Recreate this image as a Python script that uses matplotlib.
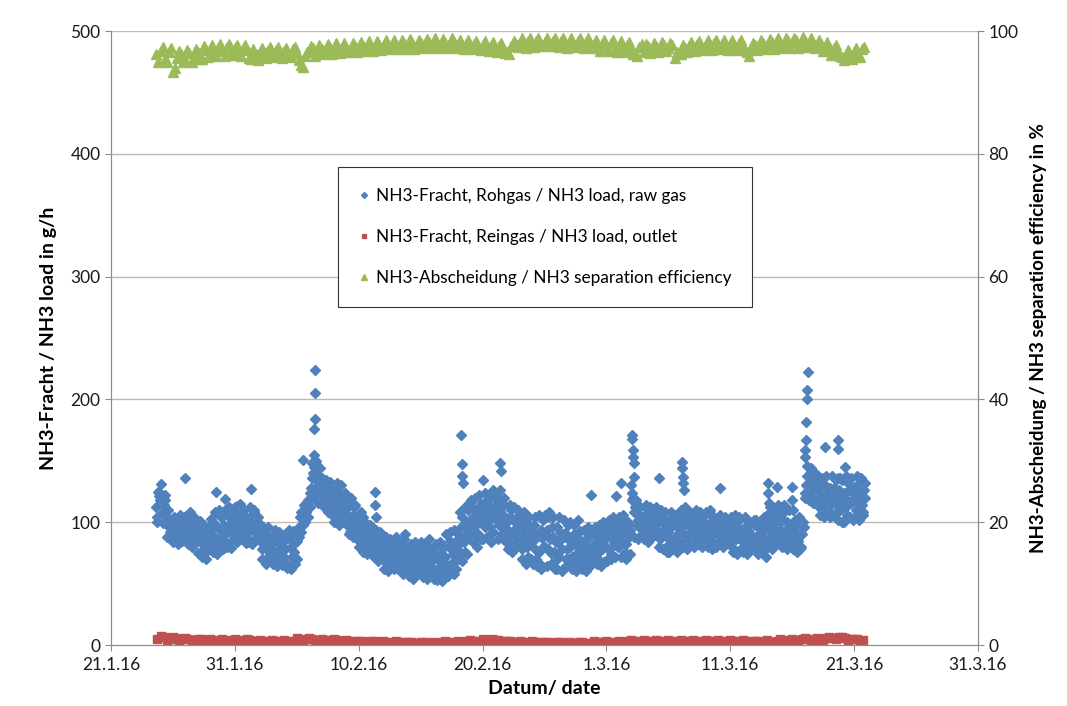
import matplotlib
matplotlib.use("Agg")
import matplotlib.pyplot as plt
import matplotlib.dates as mdates
import numpy as np
import pandas as pd

# NH3 load raw gas (g/h), 4-hourly readings from 16:00, one row per day
blue_rows = [
    [112, 125],
    [131, 108, 118, 104, 96, 101],
    [92, 99, 87, 95, 90, 101],
    [136, 94, 88, 97, 86, 92],
    [96, 84, 90, 78, 70, 88],
    [92, 80, 98, 125, 77, 94],
    [88, 119, 83, 104, 90, 95],
    [96, 113, 103, 88, 107, 92],
    [98, 86, 127, 94, 101, 89],
    [92, 78, 85, 70, 88, 75],
    [82, 68, 90, 74, 79, 65],
    [72, 86, 64, 80, 93, 70],
    [85, 96, 108, 151, 100, 112],
    [118, 128, 140, 135, 126, 132],
    [124, 116, 131, 119, 127, 114],
    [110, 128, 104, 121, 108, 117],
    [99, 112, 92, 106, 95, 103],
    [96, 85, 104, 80, 92, 77],
    [82, 90, 74, 88, 70, 79],
    [75, 84, 66, 78, 70, 62],
    [80, 68, 73, 64, 86, 71],
    [66, 76, 60, 72, 58, 79],
    [64, 70, 82, 57, 68, 74],
    [62, 75, 53, 69, 80, 65],
    [72, 60, 85, 67, 58, 78],
    [90, 76, 104, 84, 95, 110],
    [86, 112, 96, 104, 90, 115],
    [108, 96, 118, 102, 112, 92],
    [104, 120, 98, 114, 106, 88],
    [100, 88, 110, 82, 95, 105],
    [92, 78, 101, 86, 72, 96],
    [84, 98, 70, 90, 66, 87],
    [80, 94, 104, 75, 88, 68],
    [96, 72, 86, 62, 91, 78],
    [70, 88, 64, 82, 76, 93],
    [74, 68, 86, 79, 66, 90],
    [72, 84, 70, 92, 78, 88],
    [80, 95, 74, 100, 86, 92],
    [98, 84, 102, 76, 92, 88],
    [130, 120, 112, 98, 106, 94],
    [104, 92, 110, 96, 88, 100],
    [98, 110, 86, 102, 94, 80],
    [92, 78, 104, 88, 96, 84],
    [102, 90, 108, 86, 97, 82],
    [94, 104, 88, 100, 84, 96],
    [86, 98, 106, 90, 82, 100],
    [96, 88, 102, 92, 84, 98],
    [90, 80, 98, 86, 104, 78],
    [84, 96, 76, 92, 88, 80],
    [98, 82, 90, 77, 94, 86],
    [96, 88, 104, 84, 110, 92],
    [100, 86, 108, 94, 82, 98],
    [90, 80, 98, 85, 78, 95],
    [124, 138, 128, 142, 120, 132],
    [126, 112, 134, 118, 130, 108],
    [120, 106, 128, 114, 136, 110],
    [100, 124, 112, 132, 104, 118],
    [128, 110, 122, 136, 114, 126],
]

# same series, readings in between (4-hourly from 18:00)
blue_rows_b = [
    [104, 118],
    [122, 114, 99, 110, 92, 97],
    [104, 88, 96, 84, 98, 93],
    [90, 100, 84, 93, 102, 88],
    [87, 93, 82, 95, 84, 80],
    [86, 100, 88, 84, 95, 104],
    [98, 92, 106, 96, 100, 86],
    [105, 92, 98, 110, 94, 100],
    [92, 104, 96, 110, 90, 99],
    [84, 96, 80, 90, 78, 86],
    [76, 86, 72, 84, 70, 80],
    [78, 66, 88, 72, 76, 84],
    [92, 104, 98, 114, 108, 118],
    [124, 136, 145, 128, 138, 122],
    [130, 122, 118, 126, 110, 121],
    [118, 112, 124, 114, 104, 112],
    [106, 96, 100, 112, 98, 92],
    [88, 98, 92, 86, 84, 90],
    [86, 78, 84, 80, 76, 84],
    [70, 80, 72, 68, 82, 74],
    [74, 78, 66, 80, 70, 76],
    [70, 64, 80, 68, 74, 62],
    [72, 60, 76, 66, 62, 78],
    [70, 58, 72, 64, 74, 60],
    [66, 80, 62, 74, 84, 70],
    [82, 96, 88, 76, 100, 92],
    [98, 104, 88, 110, 100, 106],
    [100, 112, 106, 96, 110, 120],
    [112, 100, 108, 96, 114, 102],
    [94, 104, 90, 100, 88, 98],
    [84, 96, 90, 80, 98, 88],
    [92, 78, 88, 76, 94, 80],
    [90, 78, 86, 96, 76, 84],
    [84, 92, 78, 88, 70, 86],
    [80, 72, 90, 70, 86, 78],
    [82, 76, 72, 88, 80, 74],
    [80, 90, 76, 86, 82, 94],
    [88, 78, 92, 84, 96, 80],
    [90, 96, 86, 82, 98, 94],
    [124, 108, 118, 102, 98, 104],
    [96, 104, 90, 100, 106, 94],
    [102, 92, 106, 90, 98, 100],
    [86, 96, 82, 100, 90, 94],
    [96, 104, 88, 100, 92, 104],
    [100, 86, 96, 92, 102, 90],
    [94, 90, 100, 84, 96, 92],
    [90, 100, 86, 96, 92, 88],
    [98, 86, 92, 96, 88, 94],
    [90, 82, 94, 84, 100, 86],
    [88, 96, 84, 92, 80, 96],
    [102, 92, 96, 100, 88, 104],
    [94, 102, 90, 100, 96, 88],
    [84, 92, 88, 100, 90, 96],
    [130, 124, 136, 126, 140, 128],
    [118, 130, 122, 112, 126, 120],
    [128, 116, 122, 108, 126, 118],
    [112, 120, 106, 126, 116, 124],
    [118, 130, 116, 124, 108, 120],
]

# same series, odd-hour readings (4-hourly from 17:00)
blue_rows_c = [
    [100, 121],
    [119, 99, 122, 88, 103, 86],
    [84, 103, 82, 106, 85, 104],
    [105, 82, 108, 80, 104, 84],
    [75, 101, 72, 98, 76, 96],
    [103, 76, 108, 74, 110, 80],
    [78, 110, 80, 112, 79, 108],
    [112, 84, 115, 86, 110, 83],
    [84, 112, 82, 108, 86, 104],
    [98, 70, 94, 66, 96, 68],
    [66, 94, 64, 92, 67, 88],
    [90, 63, 94, 62, 84, 66],
    [70, 88, 92, 98, 116, 104],
    [112, 148, 120, 150, 116, 144],
    [136, 112, 134, 108, 133, 106],
    [100, 132, 98, 130, 100, 124],
    [116, 90, 120, 88, 114, 86],
    [80, 108, 76, 100, 74, 98],
    [96, 72, 94, 68, 92, 70],
    [62, 88, 60, 86, 64, 84],
    [88, 62, 84, 58, 90, 60],
    [56, 82, 54, 84, 58, 80],
    [84, 55, 80, 54, 86, 58],
    [54, 82, 56, 84, 52, 80],
    [90, 56, 92, 60, 94, 62],
    [70, 108, 68, 112, 74, 116],
    [118, 84, 120, 80, 122, 86],
    [86, 124, 88, 122, 84, 126],
    [124, 86, 126, 90, 120, 84],
    [78, 114, 76, 112, 80, 110],
    [106, 70, 108, 66, 104, 70],
    [66, 104, 64, 106, 62, 102],
    [106, 64, 108, 66, 104, 62],
    [62, 104, 60, 102, 64, 98],
    [100, 62, 98, 60, 102, 64],
    [62, 94, 60, 96, 64, 92],
    [96, 66, 98, 64, 100, 68],
    [68, 102, 70, 104, 72, 100],
    [104, 72, 106, 70, 100, 74],
    [118, 88, 116, 86, 112, 90],
    [86, 114, 84, 112, 88, 108],
    [112, 80, 110, 78, 108, 76],
    [76, 108, 78, 106, 76, 104],
    [110, 80, 112, 78, 108, 82],
    [80, 110, 82, 108, 80, 106],
    [108, 80, 110, 78, 104, 80],
    [82, 106, 80, 104, 84, 102],
    [104, 76, 106, 74, 102, 78],
    [76, 104, 74, 100, 78, 102],
    [102, 74, 100, 76, 104, 72],
    [80, 112, 78, 110, 82, 114],
    [112, 80, 114, 78, 110, 82],
    [78, 102, 76, 104, 80, 100],
    [120, 146, 118, 144, 116, 140],
    [138, 106, 136, 104, 138, 110],
    [104, 138, 106, 134, 102, 136],
    [134, 100, 138, 104, 136, 102],
    [104, 138, 102, 136, 106, 132],
]

# short peaks (hourly readings) in the raw gas load
peak_times = [
    "2016-02-06 09:00", "2016-02-06 09:30", "2016-02-06 10:00", "2016-02-06 10:30",
    "2016-02-06 11:00", "2016-02-06 11:30",
    "2016-02-11 07:00", "2016-02-11 08:00", "2016-02-11 09:00",
    "2016-02-18 07:00", "2016-02-18 08:00", "2016-02-18 09:00", "2016-02-18 10:00",
    "2016-02-20 00:00", "2016-02-21 10:00", "2016-02-21 11:00",
    "2016-02-28 19:00", "2016-03-01 19:00", "2016-03-02 05:00",
    "2016-03-03 01:00", "2016-03-03 02:00", "2016-03-03 03:00", "2016-03-03 04:00",
    "2016-03-03 05:00", "2016-03-03 06:00",
    "2016-03-05 05:00",
    "2016-03-07 02:00", "2016-03-07 03:00", "2016-03-07 04:00", "2016-03-07 05:00",
    "2016-03-07 06:00",
    "2016-03-10 04:00",
    "2016-03-14 01:00", "2016-03-14 02:00", "2016-03-14 03:00", "2016-03-14 04:00",
    "2016-03-14 18:00",
    "2016-03-15 23:00", "2016-03-16 00:00", "2016-03-16 01:00",
    "2016-03-17 00:00", "2016-03-17 01:00", "2016-03-17 02:00", "2016-03-17 03:00",
    "2016-03-17 04:00", "2016-03-17 05:00", "2016-03-17 06:00",
    "2016-03-18 15:00", "2016-03-19 16:00", "2016-03-19 17:00", "2016-03-20 06:00",
]
peak_values = [
    150, 155, 176, 184, 205, 224,
    125, 114, 104,
    171, 147, 138, 132,
    134, 148, 142,
    122, 121, 132,
    171, 168, 159, 153, 148, 137,
    136,
    149, 144, 137, 132, 126,
    128,
    132, 124, 116, 108,
    129,
    129, 118, 110,
    153, 159, 167, 182, 200, 208, 222,
    161, 167, 160, 145,
]

# NH3 load outlet (g/h), 12-hourly readings from 24.1. 18:00
red_rows = [
    [5.2], [6.4, 4.8], [5.5, 4.6], [5.0, 4.2], [4.6, 3.9], [4.1, 3.4], [3.8, 3.2],
    [3.6, 4.2], [3.9, 3.3], [3.5, 3.0], [3.2, 3.6], [3.0, 3.4], [4.3, 4.8],
    [4.6, 4.2], [4.4, 3.9], [4.0, 3.6], [3.5, 3.1], [3.2, 2.8], [2.9, 2.6],
    [2.5, 2.8], [2.4, 2.2], [2.3, 2.0], [2.1, 1.9], [2.0, 2.3], [2.2, 2.5],
    [2.6, 2.9], [3.2, 3.6], [4.0, 4.6], [3.8, 3.3], [3.0, 2.7], [2.6, 2.4],
    [2.3, 2.5], [2.2, 2.0], [2.1, 1.8], [1.9, 2.2], [2.0, 1.7], [2.1, 2.4],
    [2.6, 2.2], [2.8, 3.1], [3.4, 3.0], [3.2, 3.6], [3.4, 3.1], [3.5, 3.2],
    [3.0, 3.4], [3.3, 2.9], [3.1, 3.5], [3.2, 2.8], [2.9, 3.3], [2.7, 3.1],
    [3.0, 2.6], [2.8, 3.2], [3.5, 3.9], [4.2, 4.6], [4.8, 4.4], [5.0, 5.4],
    [5.8, 6.3], [5.4, 4.8], [4.5, 4.1],
]

# outlet readings in between, 12-hourly from 25.1. 00:00
red_rows_b = [
    [7.0, 4.0], [6.2, 3.8], [5.8, 3.6], [5.2, 3.2], [4.8, 2.8], [4.5, 2.6], [4.8, 2.8],
    [4.6, 2.7], [4.2, 2.4], [4.0, 2.4], [4.0, 2.5], [5.4, 3.6], [5.5, 3.5], [5.0, 3.2],
    [4.6, 2.8], [4.0, 2.4], [3.6, 2.0], [3.3, 1.8], [3.2, 1.6], [3.0, 1.4], [2.8, 1.3],
    [2.6, 1.2], [2.8, 1.3], [3.0, 1.6], [3.4, 2.0], [4.2, 2.6], [5.2, 3.4], [4.4, 2.6],
    [3.6, 2.0], [3.2, 1.7], [3.0, 1.6], [2.8, 1.4], [2.6, 1.2], [2.7, 1.3], [2.5, 1.2],
    [2.9, 1.5], [3.2, 1.7], [3.6, 2.1], [4.0, 2.4], [4.2, 2.5], [4.0, 2.4], [4.1, 2.5],
    [4.0, 2.3], [3.9, 2.2], [4.1, 2.4], [3.8, 2.1], [3.9, 2.2], [3.7, 2.0], [3.6, 1.9],
    [3.8, 2.1], [4.5, 2.8], [5.2, 3.4], [5.5, 3.8], [6.0, 4.2], [6.8, 4.8], [6.2, 4.0],
    [5.2, 3.4],
]

# NH3 separation efficiency (%), 8-hourly readings from 24.1. 16:00
green_rows = [
    [96.2], [96.8, 95.4, 96.5], [93.4, 95.6, 96.3], [95.3, 96.4, 95.8],
    [96.6, 95.5, 96.9], [97.0, 96.3, 97.3], [96.8, 97.4, 96.5], [97.2, 96.6, 97.1],
    [96.9, 95.4, 96.2], [96.6, 95.9, 96.9], [96.3, 96.9, 96.0], [96.8, 96.2, 97.0],
    [96.4, 94.5, 95.9], [96.7, 97.2, 96.5], [97.0, 96.6, 97.3], [96.9, 97.4, 96.8],
    [97.3, 96.9, 97.5], [97.1, 97.6, 97.0], [97.5, 97.1, 97.7], [97.3, 97.8, 97.2],
    [97.7, 97.4, 98.0], [97.6, 98.1, 97.5], [98.0, 97.6, 98.2], [97.8, 98.1, 97.6],
    [98.0, 97.7, 98.2], [97.8, 97.4, 97.9], [97.5, 97.9, 97.3], [97.8, 97.2, 97.6],
    [97.0, 97.5, 96.7], [96.6, 97.6, 97.9], [98.1, 97.6, 98.3], [97.9, 98.4, 97.8],
    [98.2, 97.7, 98.4], [97.9, 98.3, 97.6], [98.1, 97.7, 98.4], [97.9, 98.2, 97.6],
    [97.8, 97.2, 97.9], [97.5, 98.0, 97.1], [97.6, 97.0, 97.8], [97.2, 96.4, 97.4],
    [96.6, 97.5, 97.0], [97.6, 97.1, 97.8], [97.3, 97.7, 96.5], [96.2, 97.2, 97.6],
    [97.4, 97.9, 97.3], [97.8, 97.3, 98.0], [97.5, 97.9, 97.2], [97.8, 97.4, 98.0],
    [97.6, 96.6, 97.3], [97.8, 97.4, 98.1], [97.7, 98.2, 97.6], [98.1, 97.7, 98.4],
    [98.0, 98.5, 97.8], [98.3, 97.9, 98.1], [97.6, 97.9, 97.2], [96.9, 97.3, 96.6],
    [95.8, 96.3, 95.9], [96.6, 96.2, 97.0],
]

# efficiency readings in between, 8-hourly from 24.1. 20:00
green_rows_b = [
    [95.0], [97.4, 95.0, 97.2], [94.0, 96.8, 95.0], [96.9, 95.0, 97.0],
    [95.4, 97.6, 95.8], [97.8, 95.9, 97.9], [96.0, 97.9, 96.1], [97.8, 96.0, 97.7],
    [95.6, 97.0, 95.2], [97.3, 95.6, 97.4], [95.8, 97.4, 95.6], [97.3, 95.7, 97.4],
    [95.2, 94.2, 96.6], [97.6, 96.0, 97.8], [96.2, 97.9, 96.3], [98.0, 96.4, 98.0],
    [96.6, 98.1, 96.6], [98.2, 96.7, 98.3], [96.8, 98.4, 96.9], [98.5, 97.0, 98.6],
    [97.1, 98.6, 97.0], [98.7, 97.1, 98.6], [97.2, 98.7, 97.2], [98.8, 97.2, 98.7],
    [97.3, 98.8, 97.2], [98.6, 97.1, 98.5], [97.0, 98.4, 96.9], [98.3, 96.8, 98.2],
    [96.6, 98.0, 96.4], [96.3, 98.3, 97.4], [98.8, 97.3, 98.9], [97.4, 98.9, 97.5],
    [98.9, 97.5, 98.8], [97.4, 98.9, 97.3], [98.8, 97.4, 98.9], [97.3, 98.8, 97.2],
    [98.6, 96.8, 98.5], [96.8, 98.5, 96.6], [98.3, 96.6, 98.2], [96.2, 95.9, 97.9],
    [97.9, 96.4, 98.1], [96.6, 98.2, 96.7], [98.1, 95.6, 96.2], [97.8, 96.5, 98.2],
    [96.8, 98.4, 96.9], [98.5, 96.9, 98.5], [97.0, 98.5, 96.9], [98.5, 96.9, 98.6],
    [96.9, 96.0, 98.0], [96.9, 98.6, 97.1], [98.7, 97.1, 98.8], [97.2, 98.9, 97.3],
    [98.9, 97.3, 99.0], [97.4, 98.8, 97.2], [98.5, 96.8, 98.2], [96.1, 97.8, 95.9],
    [95.3, 96.9, 95.4], [97.3, 95.8, 97.4],
]

x_ticks = pd.date_range("2016-01-21", "2016-03-31", freq="10D")


def flat(rows):
    return [v for r in rows for v in r]


blue_a, blue_b, blue_c = flat(blue_rows), flat(blue_rows_b), flat(blue_rows_c)
red_a, red_b = flat(red_rows), flat(red_rows_b)
green_a, green_b = flat(green_rows), flat(green_rows_b)
t_blue_a = pd.date_range("2016-01-24 16:00", periods=len(blue_a), freq="4h")
t_blue_b = pd.date_range("2016-01-24 18:00", periods=len(blue_b), freq="4h")
t_blue_c = pd.date_range("2016-01-24 17:00", periods=len(blue_c), freq="4h")
t_red_a = pd.date_range("2016-01-24 18:00", periods=len(red_a), freq="12h")
t_red_b = pd.date_range("2016-01-25 00:00", periods=len(red_b), freq="12h")
t_green_a = pd.date_range("2016-01-24 16:00", periods=len(green_a), freq="8h")
t_green_b = pd.date_range("2016-01-24 20:00", periods=len(green_b), freq="8h")
t_peak = pd.to_datetime(peak_times)

plt.rcParams['font.family'] = ['Lato', 'DejaVu Sans']
c_blue, c_red, c_green = '#4f81bd', '#c0504d', '#9bbb59'
axis_col = '#8c8c8c'

fig = plt.figure(figsize=(10.67, 7.06), dpi=100)
ax = fig.add_axes([111/1067, 1-645/706, 867/1067, 614/706])
ax2 = ax.twinx()

ax.set_zorder(1)
ax2.set_zorder(2)
ax.patch.set_visible(False)

for y in range(100, 501, 100):
    ax.axhline(y, color='#c2b8b0', lw=1, zorder=0)

mk_b = dict(ls='none', marker='D', ms=5.5, color=c_blue, mec=c_blue)
mk_r = dict(ls='none', marker='s', ms=6, color=c_red, mec=c_red)
mk_g = dict(ls='none', marker='^', ms=7.5, color=c_green, mec=c_green)
h1, = ax.plot(t_blue_a, blue_a, **mk_b)
ax.plot(t_blue_b, blue_b, **mk_b)
ax.plot(t_blue_c, blue_c, **mk_b)
ax.plot(t_peak, peak_values, **mk_b)
h2, = ax.plot(t_red_a, red_a, **mk_r)
ax.plot(t_red_b, red_b, **mk_r)
h3, = ax2.plot(t_green_a, green_a, **mk_g)
ax2.plot(t_green_b, green_b, **mk_g)

ax.set_xlim(x_ticks[0], x_ticks[-1])
ax.set_ylim(0, 500)
ax2.set_ylim(0, 100)
ax.set_yticks(range(0, 501, 100))
ax2.set_yticks(range(0, 101, 20))
ax.set_xticks(x_ticks)
ax.xaxis.set_major_formatter(mdates.DateFormatter('%-d.%-m.%y'))

for a in (ax, ax2):
    a.spines['top'].set_visible(False)
    for s in ('left', 'right', 'bottom'):
        a.spines[s].set_color(axis_col)
    a.tick_params(colors='#1a1a1a', labelsize=12.5, length=4, color=axis_col)
ax.tick_params(axis='x', pad=5)

ax.set_xlabel('Datum/ date', fontsize=14, fontweight='bold', labelpad=5)
ax.set_ylabel('NH3-Fracht / NH3 load in g/h', fontsize=14, fontweight='bold', labelpad=10)
ax2.set_ylabel('NH3-Abscheidung / NH3 separation efficiency in %', fontsize=13.5,
               fontweight='bold', labelpad=8)

leg = ax2.legend([h1, h2, h3],
                 ['NH3-Fracht, Rohgas / NH3 load, raw gas',
                  'NH3-Fracht, Reingas / NH3 load, outlet',
                  'NH3-Abscheidung / NH3 separation efficiency'],
                 loc='upper left', bbox_to_anchor=(0.262, 0.778), borderaxespad=0,
                 fontsize=12.4, markerscale=0.55, handlelength=0.6, handletextpad=0.4,
                 labelspacing=1.45, borderpad=1.2, fancybox=False, framealpha=1,
                 edgecolor='#333333')
leg.get_frame().set_linewidth(0.8)

fig.savefig('out.png', dpi=100)
